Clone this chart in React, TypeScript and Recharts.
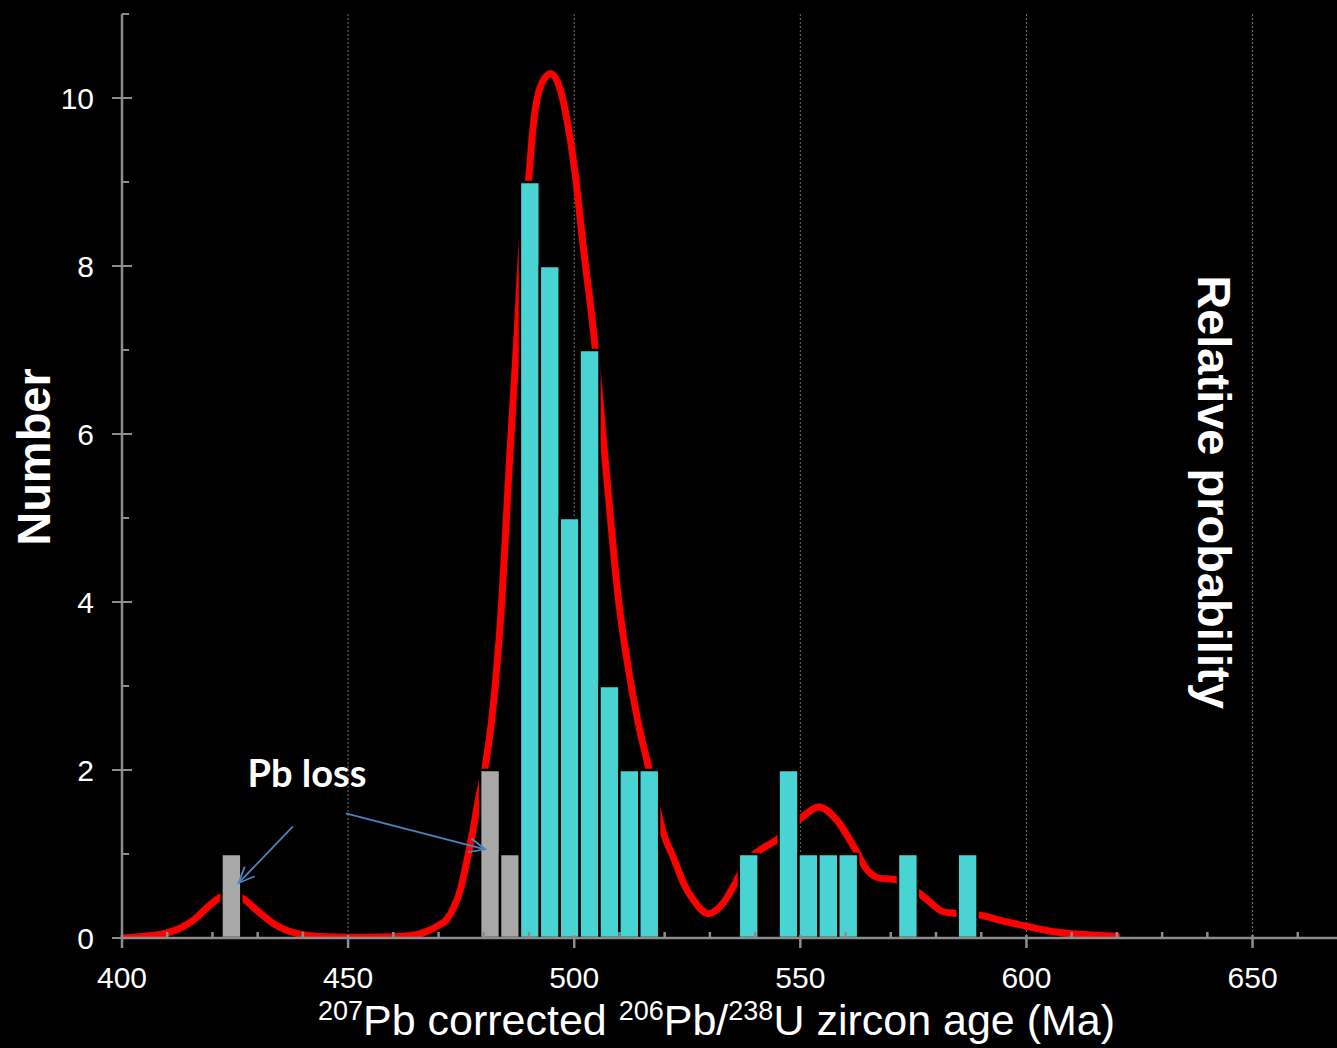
import React from "react";
import {
  ComposedChart,
  Bar,
  Line,
  Cell,
  XAxis,
  YAxis,
  CartesianGrid,
  ReferenceLine,
  ReferenceDot,
  Label,
} from "recharts";

// histogram bins: bin centre age (Ma), number of grains, Pb-loss flag
const binAges = [
  424.2, 481.4, 485.8, 490.2, 494.6, 499.0, 503.4, 507.8, 512.2, 516.6, 538.6,
  547.4, 551.8, 556.2, 560.6, 573.8, 587.0,
];
const binCounts = [1, 2, 1, 9, 8, 5, 7, 3, 2, 2, 1, 2, 1, 1, 1, 1, 1];
const pbLoss = [
  true, true, true, false, false, false, false, false, false, false, false,
  false, false, false, false, false, false,
];

const curveAges = [
  400, 405, 410, 413, 416, 419, 421, 424, 427, 430, 433, 436, 440, 445, 450,
  455, 460, 464, 467, 470, 471.8, 473.5, 474.8, 476, 477.4, 479, 480.3, 481.4,
  482.9, 484, 485.6, 487.3, 488.4, 489.9, 491, 492.5, 494.8, 496.9, 498.4,
  500.2, 502, 504.3, 507, 509.8, 511.9, 514, 516.4, 519.7, 522, 524.2, 526.4,
  529.7, 533, 535.6, 538, 540.4, 544.8, 550, 554.1, 558.1, 561.8, 564.8, 567.7,
  570.6, 574, 577.3, 581.7, 584.7, 589.8, 594.2, 600, 606, 612, 620,
];
const curveValues = [
  0.0, 0.02, 0.06, 0.12, 0.22, 0.37, 0.46, 0.53, 0.46, 0.32, 0.19, 0.1, 0.04,
  0.015, 0.01, 0.01, 0.015, 0.03, 0.07, 0.15, 0.22, 0.38, 0.57, 0.85, 1.22,
  1.7, 2.04, 2.44, 3.23, 4.02, 5.6, 7.12, 8.2, 9.02, 9.7, 10.13, 10.29, 10.1,
  9.74, 9.1, 8.23, 7.2, 5.6, 4.02, 3.23, 2.6, 2.04, 1.25, 0.95, 0.65, 0.45,
  0.29, 0.42, 0.65, 0.9, 1.02, 1.17, 1.42, 1.56, 1.4, 1.09, 0.81, 0.71, 0.7,
  0.62, 0.49, 0.31, 0.29, 0.27, 0.21, 0.14, 0.075, 0.044, 0.02,
];

const xTicks = [
  400, 410, 420, 430, 440, 450, 460, 470, 480, 490, 500, 510, 520, 530, 540,
  550, 560, 570, 580, 590, 600, 610, 620, 630, 640, 650, 660, 670,
];
const gridTicks = [450, 500, 550, 600, 650];
const yTicks = [0, 1, 2, 3, 4, 5, 6, 7, 8, 9, 10, 11];

// annotation: "Pb loss" text anchor and the two arrows (age, number)
const pbLossLabel = { x: 440.9, y: 1.8 };
const arrowLeft = [
  { x: 437.8, y: 1.33 },
  { x: 425.8, y: 0.655 },
];
const arrowRight = [
  { x: 449.5, y: 1.485 },
  { x: 480.3, y: 1.056 },
];

const AXIS = "#8c8c8c";
const ARROW = "#4f81bd";
const FONT = "'Liberation Sans', Arial, sans-serif";

const bins = binAges.map((age, i) => ({ age, count: binCounts[i] }));
const curve = curveAges.map((age, i) => ({ age, p: curveValues[i] }));

function AgeTick({ x, y, payload }: any) {
  const v = payload.value;
  const major = v % 50 === 0;
  return (
    <g>
      <line
        x1={x}
        x2={x}
        y1={major ? y - 3 : y - 6}
        y2={major ? y + 10 : y}
        stroke={AXIS}
        strokeWidth={2.5}
      />
      {major && (
        <text x={x} y={y + 50} textAnchor="middle" fill="#fff" fontSize={30} fontFamily={FONT}>
          {v}
        </text>
      )}
    </g>
  );
}

function CountTick({ x, y, payload }: any) {
  const v = payload.value;
  const major = v % 2 === 0;
  return (
    <g>
      <line
        x1={major ? x - 10 : x}
        x2={major ? x + 10 : x + 7}
        y1={y}
        y2={y}
        stroke={AXIS}
        strokeWidth={2}
      />
      {major && (
        <text x={x - 28} y={y + 11} textAnchor="end" fill="#fff" fontSize={30} fontFamily={FONT}>
          {v}
        </text>
      )}
    </g>
  );
}

// x title under the axis, plus the right-hand "Relative probability" title
function AgeTitle({ viewBox }: any) {
  const cx = viewBox.x + viewBox.width / 2 - 16;
  const by = viewBox.y + 97;
  const rx = viewBox.x + viewBox.width - 145;
  const ry = viewBox.y - 446;
  return (
    <g>
      <text x={cx} y={by} textAnchor="middle" fill="#fff" fontSize={43} fontFamily={FONT}>
        <tspan fontSize={27} dy={-15}>207</tspan>
        <tspan dy={15}>Pb corrected </tspan>
        <tspan fontSize={27} dy={-15}>206</tspan>
        <tspan dy={15}>Pb/</tspan>
        <tspan fontSize={27} dy={-15}>238</tspan>
        <tspan dy={15}>U zircon age (Ma)</tspan>
      </text>
      <text
        transform={`translate(${rx}, ${ry}) rotate(90)`}
        textAnchor="middle"
        fill="#fff"
        fontSize={47}
        fontWeight="bold"
        fontFamily={FONT}
      >
        Relative probability
      </text>
    </g>
  );
}

function NumberTitle({ viewBox }: any) {
  const cy = viewBox.y + viewBox.height / 2 - 19;
  return (
    <text
      transform={`translate(${viewBox.x + 50}, ${cy}) rotate(-90)`}
      textAnchor="middle"
      fill="#fff"
      fontSize={47}
      fontWeight="bold"
      fontFamily={FONT}
    >
      Number
    </text>
  );
}

function PbLossText({ viewBox }: any) {
  return (
    <text
      x={viewBox.x + viewBox.width / 2}
      y={viewBox.y + viewBox.height / 2}
      textAnchor="middle"
      fill="#fff"
      fontSize={38}
      fontWeight="bold"
      fontFamily="Lato, 'Open Sans', sans-serif"
    >
      Pb loss
    </text>
  );
}

export default function App() {
  return (
    <div
      style={{
        position: "absolute",
        left: 0,
        top: 0,
        width: 1337,
        height: 1048,
        overflow: "hidden",
        background: "#000",
      }}
    >
      <ComposedChart
        width={1343}
        height={1048}
        data={bins}
        margin={{ top: 14, right: 0, bottom: 0, left: 0 }}
      >
        <defs>
          <marker
            id="openArrow"
            markerUnits="userSpaceOnUse"
            markerWidth={22}
            markerHeight={22}
            refX={19}
            refY={11}
            orient="auto"
          >
            <path d="M3,4 L19,11 L3,18" fill="none" stroke={ARROW} strokeWidth={1.8} />
          </marker>
        </defs>
        <CartesianGrid
          xAxisId="curve"
          horizontal={false}
          stroke="#707070"
          strokeDasharray="2 2"
          strokeWidth={1}
        />
        <XAxis
          xAxisId="age"
          dataKey="age"
          type="number"
          domain={[400, 670]}
          ticks={xTicks}
          interval={0}
          tickSize={0}
          tickMargin={0}
          tickLine={false}
          tick={AgeTick}
          axisLine={{ stroke: AXIS, strokeWidth: 2.5 }}
          height={110}
          allowDataOverflow
        >
          <Label content={AgeTitle} />
        </XAxis>
        <XAxis
          xAxisId="curve"
          dataKey="age"
          type="number"
          domain={[400, 670]}
          ticks={gridTicks}
          interval={0}
          hide
          allowDataOverflow
        />
        <YAxis
          domain={[0, 11]}
          ticks={yTicks}
          interval={0}
          width={122}
          tickSize={0}
          tickMargin={0}
          tickLine={false}
          tick={CountTick}
          axisLine={{ stroke: AXIS, strokeWidth: 2.5 }}
          allowDataOverflow
        >
          <Label content={NumberTitle} />
        </YAxis>
        <Line
          xAxisId="curve"
          data={curve}
          dataKey="p"
          type="monotone"
          stroke="#ff0000"
          strokeWidth={7}
          strokeLinecap="round"
          dot={false}
          activeDot={false}
          isAnimationActive={false}
          zIndex={250}
        />
        <Bar
          xAxisId="age"
          dataKey="count"
          barSize={19.8}
          stroke="#000"
          strokeWidth={2.4}
          isAnimationActive={false}
        >
          {bins.map((b, i) => (
            <Cell key={b.age} fill={pbLoss[i] ? "#a8a8a8" : "#4ad3d3"} />
          ))}
        </Bar>
        <ReferenceLine
          xAxisId="age"
          segment={arrowLeft}
          stroke={ARROW}
          strokeWidth={1.8}
          markerEnd="url(#openArrow)"
        />
        <ReferenceLine
          xAxisId="age"
          segment={arrowRight}
          stroke={ARROW}
          strokeWidth={1.8}
          markerEnd="url(#openArrow)"
        />
        <ReferenceDot
          xAxisId="age"
          x={pbLossLabel.x}
          y={pbLossLabel.y}
          r={1}
          fill="none"
          stroke="none"
          label={<Label content={PbLossText} />}
        />
      </ComposedChart>
    </div>
  );
}
